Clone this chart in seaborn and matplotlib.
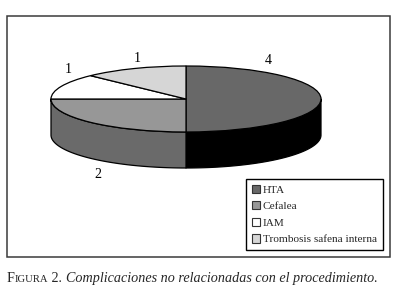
import numpy as np
import matplotlib
matplotlib.use("Agg")
import matplotlib.pyplot as plt
import seaborn as sns
from matplotlib.patches import Rectangle

# ---- data ----
categories = ["HTA", "Cefalea", "IAM", "Trombosis safena interna"]
values = [4, 2, 1, 1]
value_labels = ["4", "2", "1", "1"]
top_colors = ["#686868", "#979797", "#ffffff", "#d6d6d6"]
side_colors = ["#000000", "#6a6a6a", "#e6e6e6", "#b0b0b0"]

sns.set_theme(style="white")
plt.rcParams["font.family"] = ["Liberation Serif", "DejaVu Serif"]

W, H = 396, 300
fig = plt.figure(figsize=(W / 100, H / 100), dpi=100)
fig.patch.set_facecolor("white")

def fx(px):
    return px / W

def fy(py):
    return (H - py) / H

# outer frame
fig.add_artist(Rectangle((fx(7), fy(257)), fx(390) - fx(7), fy(16) - fy(257),
                         transform=fig.transFigure, fill=False,
                         edgecolor="#3a3a3a", linewidth=1.1))

# pie axes: top ellipse spans x 51..321 px, y 66..132 px; side depth 36 px
ry_px = 33.0
depth = 36.0 / ry_px
ax = fig.add_axes([fx(51), fy(168), fx(321) - fx(51), fy(66) - fy(168)])

lw = 0.9
wedges, _ = ax.pie(values, startangle=90, counterclock=False, colors=top_colors,
                   radius=1.0, center=(0, 0),
                   wedgeprops=dict(edgecolor="black", linewidth=lw, zorder=3))

# slice angle ranges (degrees, math convention)
total = sum(values)
start = 90.0
for v, sc in zip(values, side_colors):
    sweep = 360.0 * v / total
    a_hi, a_lo = start, start - sweep
    start = a_lo
    # front part: angles in [180, 360] (equivalently [-180, 0])
    for off in (0.0, 360.0, -360.0):
        lo = max(a_lo + off, -180.0)
        hi = min(a_hi + off, 0.0)
        if hi > lo:
            t = np.radians(np.linspace(lo, hi, 100))
            xs = np.concatenate([np.cos(t), np.cos(t[::-1])])
            ys = np.concatenate([np.sin(t), np.sin(t[::-1]) - depth])
            ax.fill(xs, ys, facecolor=sc, edgecolor="black", linewidth=lw,
                    zorder=2, joinstyle="round")

ax.set_aspect("auto")
ax.set_xlim(-1.0, 1.0)
ax.set_ylim(-1.0 - depth, 1.0)
ax.axis("off")
for p in ax.patches:
    p.set_clip_on(False)

# value labels (placed around the pie, in figure pixels)
label_pos = [(268, 60), (98, 175), (68, 70), (137, 58)]
for txt, (px, py) in zip(value_labels, label_pos):
    fig.text(fx(px), fy(py), txt, ha="center", va="center", fontsize=10,
             color="black")

# legend
leg = ax.legend(wedges, categories, loc="upper left",
                bbox_to_anchor=(fx(246), fy(179)), bbox_transform=fig.transFigure,
                frameon=True, fancybox=False, framealpha=1, edgecolor="black",
                fontsize=8.1, handlelength=0.75, handleheight=0.75,
                handletextpad=0.25, labelspacing=0.58, borderpad=0.5,
                borderaxespad=0)
leg.get_frame().set_linewidth(1.0)
for h in leg.legend_handles:
    h.set_edgecolor("#333333")
    h.set_linewidth(0.8)

# caption with small caps "FIGURA"
base = fy(282)
t1 = fig.text(fx(7), base, "F", fontsize=10.2, ha="left", va="baseline")
t2 = fig.text(0, 0, "IGURA", fontsize=7.7, ha="left", va="baseline")
t3 = fig.text(0, 0, " 2. ", fontsize=10.2, ha="left", va="baseline")
t4 = fig.text(0, 0, "Complicaciones no relacionadas con el procedimiento.",
              fontsize=10.2, style="italic", ha="left", va="baseline")
fig.canvas.draw()
r = fig.canvas.get_renderer()
prev = t1
for t in (t2, t3, t4):
    bb = prev.get_window_extent(r)
    t.set_position((bb.x1 / fig.bbox.width, base))
    fig.canvas.draw()
    prev = t

fig.savefig("out.png", dpi=100, facecolor="white")
